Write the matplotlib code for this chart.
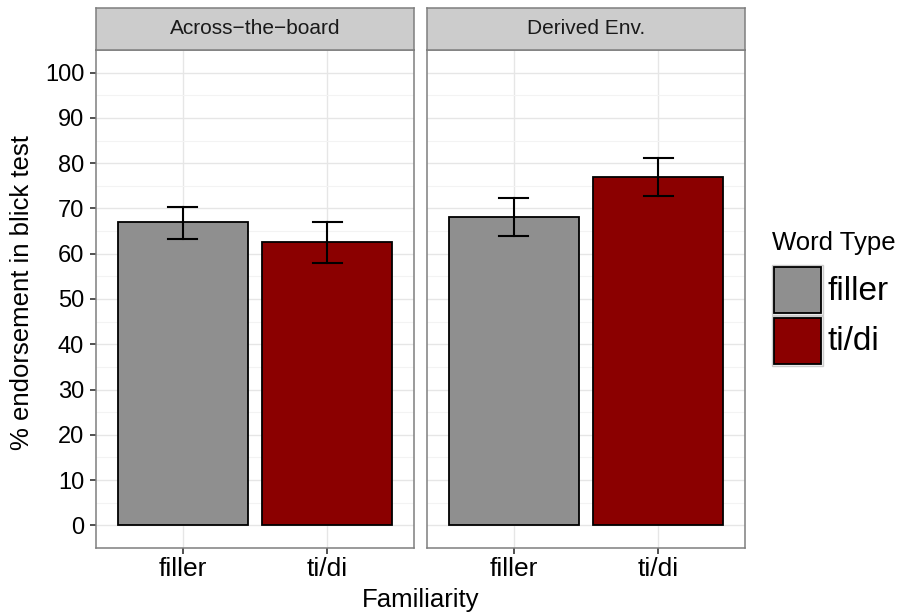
import matplotlib.pyplot as plt
from matplotlib.patches import Rectangle

plt.rcParams['font.family'] = ['Liberation Sans', 'DejaVu Sans']

panels = ["Across\u2212the\u2212board", "Derived Env."]
word_types = ["filler", "ti/di"]
colors = ["#8f8f8f", "#8b0000"]

# mean endorsement per panel, per word type, with CI bounds
means = [[66.9, 62.5], [68.1, 76.9]]
lower = [[63.3, 58.0], [63.9, 72.8]]
upper = [[70.4, 67.0], [72.3, 81.1]]

W, H = 901, 614
fig = plt.figure(figsize=(W / 100, H / 100), dpi=100)


def px_axes(x0, y0, x1, y1):
    return fig.add_axes([x0 / W, 1 - y1 / H, (x1 - x0) / W, (y1 - y0) / H])


panel_x = [(96, 414), (427, 745)]
top, bottom, strip_top = 50, 548, 8

for i, (x0, x1) in enumerate(panel_x):
    ax = px_axes(x0, top, x1, bottom)
    ax.set_xlim(0.4, 2.6)
    ax.set_ylim(-5, 105)
    ax.set_yticks(range(0, 101, 10))
    ax.set_yticks(range(5, 101, 10), minor=True)
    ax.set_xticks([1, 2])
    ax.set_xticklabels(word_types, fontsize=19)
    ax.grid(True, which="major", color="#e6e6e6", lw=1.0)
    ax.grid(True, which="minor", axis="y", color="#f3f3f3", lw=0.8)
    ax.set_axisbelow(True)
    ax.tick_params(axis="both", which="major", length=4.5, width=1.2, color="#333333",
                   labelcolor="black")
    ax.tick_params(axis="x", labelsize=19, pad=2)
    ax.tick_params(axis="y", labelsize=17, pad=4)
    ax.tick_params(axis="y", which="minor", length=0)
    for s in ax.spines.values():
        s.set_color("#7f7f7f")
        s.set_linewidth(1.1)
    if i == 0:
        ax.set_yticklabels([str(v) for v in range(0, 101, 10)])
    else:
        ax.tick_params(axis="y", which="major", length=0, labelleft=False)

    ax.bar([1, 2], means[i], width=0.9, color=colors, edgecolor="black",
           linewidth=1.3, zorder=2)
    for j in range(2):
        xc = j + 1
        ax.plot([xc, xc], [lower[i][j], upper[i][j]], color="black", lw=1.5, zorder=3)
        for yv in (lower[i][j], upper[i][j]):
            ax.plot([xc - 0.1, xc + 0.1], [yv, yv], color="black", lw=1.5, zorder=3)

    sax = px_axes(x0, strip_top, x1, top)
    sax.set_xticks([])
    sax.set_yticks([])
    sax.set_facecolor("#cccccc")
    for s in sax.spines.values():
        s.set_color("#7f7f7f")
        s.set_linewidth(1.1)
    sax.text(0.5, 0.5, panels[i], ha="center", va="center", fontsize=15,
             color="#1a1a1a", transform=sax.transAxes)

fig.text(22 / W, 1 - 293 / H, "% endorsement in blick test", rotation=90,
         ha="center", va="center", fontsize=18.5)
fig.text((96 + 745) / 2 / W, 1 - 600 / H, "Familiarity", ha="center", va="center",
         fontsize=18.5)

# legend drawn by hand to get the large square keys
fig.text(772 / W, 1 - 243 / H, "Word Type", ha="left", va="center", fontsize=18.5)
for k, (lab, col) in enumerate(zip(word_types, colors)):
    ky = 265 + k * 51
    fig.patches.append(Rectangle((772 / W, 1 - (ky + 50) / H), 51 / W, 50 / H,
                                 transform=fig.transFigure, facecolor="#f2f2f2",
                                 edgecolor="#cccccc", lw=1))
    fig.patches.append(Rectangle((774 / W, 1 - (ky + 48) / H), 47 / W, 46 / H,
                                 transform=fig.transFigure, facecolor=col,
                                 edgecolor="black", lw=1.3))
    fig.text(827 / W, 1 - (ky + 26) / H, lab, ha="left", va="center", fontsize=24)

fig.savefig("out.png", dpi=100)
